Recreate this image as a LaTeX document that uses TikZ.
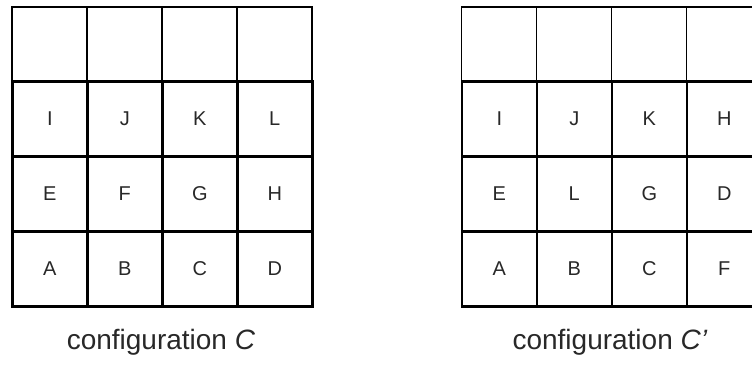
\documentclass[tikz,border=0pt]{standalone}
\usepackage{fontspec}
\setmainfont{Liberation Sans}
\definecolor{txt}{RGB}{40,40,40}
\begin{document}
\begin{tikzpicture}[x=1pt,y=-1pt,
  topcell/.style={draw=black,line width=1.6pt,minimum width=75pt,minimum height=75pt,inner sep=0pt,anchor=north west},
  cell/.style={draw=black,line width=2.6pt,minimum width=75pt,minimum height=75pt,inner sep=0pt,anchor=north west,font=\fontsize{20}{24}\selectfont,text=txt},
  caption/.style={font=\fontsize{28}{32}\selectfont,text=txt}]
\useasboundingbox (0,0) rectangle (752,365);
\clip (0,0) rectangle (752,365);
% left grid
\foreach \c [count=\i from 0] in {t0,t1,t2,t3} {
  \node[topcell] (L\c) at (11+75*\i,6) {};
}
\foreach \r/\y/\labels in {1/80/{I,J,K,L},2/155/{E,F,G,H},3/230/{A,B,C,D}} {
  \foreach \t [count=\i from 0] in \labels {
    \node[cell] (L\r\i) at (11+75*\i,\y) {\t};
  }
}
% right grid
\foreach \c [count=\i from 0] in {t0,t1,t2,t3} {
  \node[topcell] (R\c) at (460.5+75*\i,6) {};
}
\foreach \r/\y/\labels in {1/80/{I,J,K,H},2/155/{E,L,G,D},3/230/{A,B,C,F}} {
  \foreach \t [count=\i from 0] in \labels {
    \node[cell] (R\r\i) at (460.5+75*\i,\y) {\t};
  }
}
\node[caption] (capL) at (161,342) {configuration \textit{C}};
\node[caption] (capR) at (610,342) {configuration \textit{C\char"27}};
\end{tikzpicture}
\end{document}
